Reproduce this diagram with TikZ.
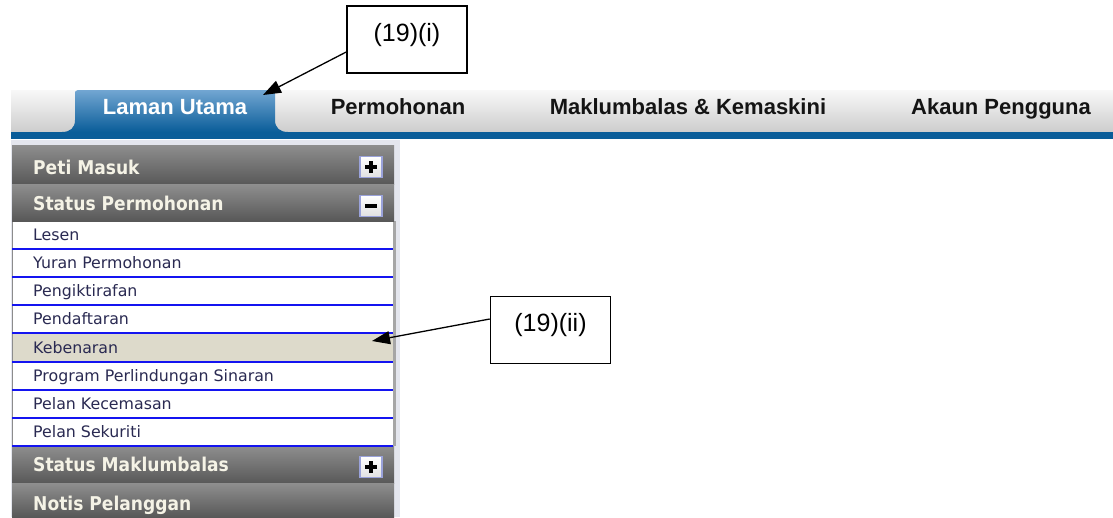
\documentclass[tikz,border=0pt]{standalone}
\usepackage{fontspec}
\setmainfont{Liberation Sans}
\newfontfamily\menufont{DejaVu Sans}
\newfontfamily\headfont[FakeStretch=0.9]{DejaVu Sans}
\usetikzlibrary{arrows.meta,positioning}
\definecolor{tabblue}{HTML}{0A5D99}
\definecolor{tablight}{HTML}{72A6D2}
\definecolor{barlight}{HTML}{F8F8F8}
\definecolor{bardark}{HTML}{CDCDCD}
\definecolor{headlight}{HTML}{8E8E8E}
\definecolor{headdark}{HTML}{585858}
\definecolor{headtext}{HTML}{F5F3E6}
\definecolor{itemtext}{HTML}{2A2A52}
\definecolor{rowline}{HTML}{1414F0}
\definecolor{rowsel}{HTML}{DDDACB}
\definecolor{sideframe}{HTML}{E4E6EE}
\definecolor{iconedge}{HTML}{9AA2DA}
\tikzset{
  tablabel/.style={font=\fontsize{22}{26}\selectfont\bfseries, text=black!92, inner sep=0, anchor=base},
  headbar/.style={top color=headlight, bottom color=headdark},
  headlabel/.style={font=\headfont\fontsize{19}{22}\selectfont\bfseries, text=headtext, inner sep=0, anchor=base west},
  itemlabel/.style={font=\menufont\fontsize{15.8}{18}\selectfont, text=itemtext, inner sep=0, anchor=base west},
  iconbox/.style={draw=iconedge, line width=1.2pt, top color=white, bottom color=black!12, minimum width=22pt, minimum height=21pt, inner sep=0},
  callout/.style={draw, line width=1.6pt, fill=white, minimum width=120pt, minimum height=67pt,
    text height=18pt, text depth=15pt, font=\fontsize{25}{30}\selectfont},
  pointer/.style={-{Triangle[length=18pt,width=13pt]}, line width=1.3pt},
}

\begin{document}
\begin{tikzpicture}[x=1pt, y=-1pt]
    \useasboundingbox (0,0) rectangle (1113,517);

    % tab bar
    \fill [top color=barlight, bottom color=bardark] (11,90) rectangle (1113,132);
    \fill [tabblue] (11,132) rectangle (1113,139);
    \path [top color=tablight, bottom color=tabblue] (62,132) .. controls (70,132) and (75,128) .. (75,120)
      -- (75,94) .. controls (75,91) .. (78,90) -- (272,90) .. controls (275,91) .. (275,94)
      -- (275,120) .. controls (275,128) and (280,132) .. (288,132) -- cycle;
    \node [tablabel, text=white] (laman) at (175,114.5) {Laman Utama};
    \node [tablabel] (permohonan) at (398,114.5) {Permohonan};
    \node [tablabel] (maklumbalas) at (688,114.5) {Maklumbalas \& Kemaskini};
    \node [tablabel] (akaun) at (1001,114.5) {Akaun Pengguna};

    % side menu
    \fill [sideframe] (11,140) rectangle (400,517);
    \fill [white] (12,221) rectangle (393,446);
    \fill [rowsel] (12,334) rectangle (393,362);
    \draw [black!45, line width=1pt] (12,221) -- (12,446);
    \draw [black!35, line width=2.5pt] (394.5,221) -- (394.5,446);
    \fill [headbar] (12,145) rectangle (394,184.5);
    \fill [headbar] (12,184.5) rectangle (394,221);
    \fill [headbar] (12,446) rectangle (394,483.5);
    \fill [headbar] (12,483.5) rectangle (394,517);
    \node [headlabel] (peti) at (33,174) {Peti Masuk};
    \node [headlabel] (statusp) at (33,210.7) {Status Permohonan};
    \node [headlabel] (statusm) at (33,471.5) {Status Maklumbalas};
    \node [headlabel] (notis) at (33,510) {Notis Pelanggan};

    % plus / minus icons
    \node [iconbox] (petiicon) at (371,167) {};
    \node [iconbox] (statuspicon) at (371,206) {};
    \node [iconbox] (statusmicon) at (371,467) {};
    \foreach \icon in {petiicon,statuspicon,statusmicon}
      \draw [line width=3.5pt] ([xshift=-6pt]\icon.center) -- ([xshift=6pt]\icon.center);
    \foreach \icon in {petiicon,statusmicon}
      \draw [line width=3.5pt] ([yshift=-6pt]\icon.center) -- ([yshift=6pt]\icon.center);

    % menu entries
    \foreach \entry [count=\k from 0] in {Lesen,Yuran Permohonan,Pengiktirafan,Pendaftaran,Kebenaran,
        Program Perlindungan Sinaran,Pelan Kecemasan,Pelan Sekuriti} {
      \pgfmathsetmacro\rowtop{round(221+28.125*\k)}
      \node [itemlabel] (row\k) at (33,\rowtop+19.7) {\entry};
      \draw [rowline, line width=2pt] (12,\rowtop+28) -- (393,\rowtop+28);
    }

    % callouts
    \node [callout] (boxi) at (407,39.5) {(19)(i)};
    \node [callout] (boxii) at (550.5,330) {(19)(ii)};
    \coordinate (tabtip) at (263,95);
    \coordinate (rowtip) at (372,341);
    \draw [pointer] ([yshift=-12.5pt]boxi.west) -- (tabtip);
    \draw [pointer] ([yshift=11pt]boxii.west) -- (rowtip);
\end{tikzpicture}
\end{document}
